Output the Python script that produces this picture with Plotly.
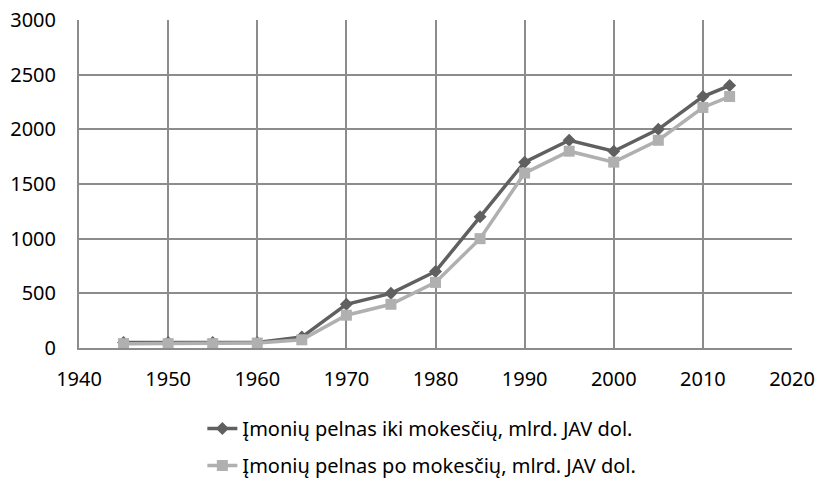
import plotly.graph_objects as go

years = [1945, 1950, 1955, 1960, 1965, 1970, 1975, 1980, 1985, 1990, 1995, 2000, 2005, 2010, 2013]
pre_tax = [50, 50, 50, 50, 100, 400, 500, 700, 1200, 1700, 1900, 1800, 2000, 2300, 2400]
after_tax = [40, 40, 40, 45, 75, 300, 400, 600, 1000, 1600, 1800, 1700, 1900, 2200, 2300]
name_pre = "Įmonių pelnas iki mokesčių, mlrd. JAV dol."
name_after = "Įmonių pelnas po mokesčių, mlrd. JAV dol."

fig = go.Figure()
fig.add_trace(go.Scatter(x=years, y=pre_tax, name=name_pre, mode="lines+markers",
                         line=dict(color="#606060", width=3.5),
                         marker=dict(symbol="diamond", size=10, color="#606060"),
                         legendgroup="a"))
fig.add_trace(go.Scatter(x=years, y=after_tax, name=name_after, mode="lines+markers",
                         line=dict(color="#b0b0b0", width=3.5),
                         marker=dict(symbol="square", size=11, color="#b0b0b0"),
                         legendgroup="b"))

grid = "#8c8c8c"
fig.update_layout(
    width=818, height=479,
    margin=dict(l=79, r=26, t=20, b=131, autoexpand=False),
    paper_bgcolor="white", plot_bgcolor="white",
    font=dict(family="Noto Sans, sans-serif", size=20, color="black"),
    showlegend=True,
    legend=dict(x=0.173, xanchor="left", y=-0.186, yanchor="top",
                traceorder="grouped", tracegroupgap=8,
                font=dict(size=20)),
    xaxis=dict(range=[1940, 2020], tickvals=[1940, 1950, 1960, 1970, 1980, 1990, 2000, 2010, 2020],
               showgrid=True, gridcolor=grid, gridwidth=2,
               showline=True, linecolor=grid, linewidth=2, zeroline=False,
               ticks="", ticklabelstandoff=12, mirror=False),
    yaxis=dict(range=[0, 3000], tickvals=[0, 500, 1000, 1500, 2000, 2500, 3000],
               showgrid=True, gridcolor=grid, gridwidth=2,
               showline=True, linecolor=grid, linewidth=2, zeroline=False,
               ticks="", ticklabelstandoff=17),
)

fig.write_html("out.html", config={"displayModeBar": False},
               post_script="document.body.style.margin='0';document.body.style.padding='0';")
